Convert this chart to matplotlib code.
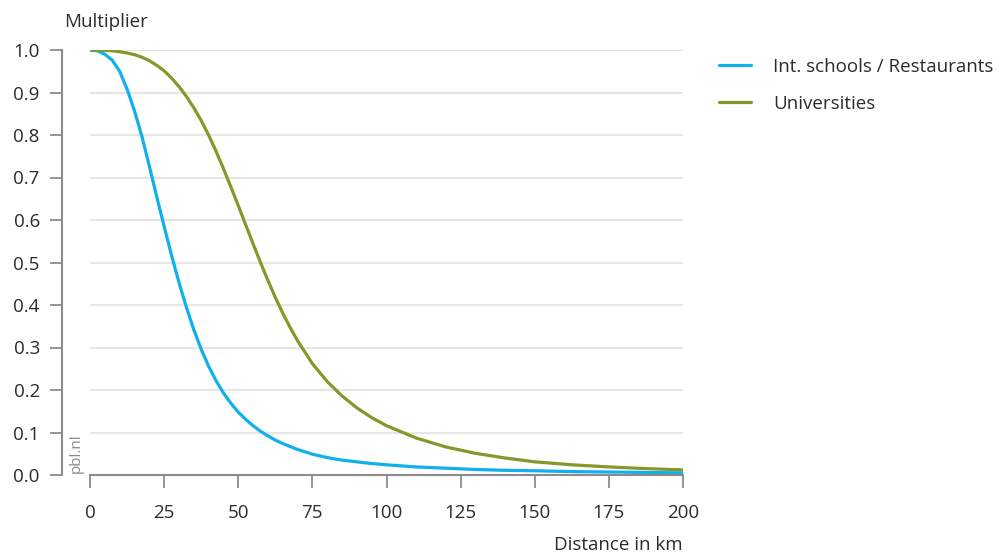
import matplotlib
matplotlib.use("Agg")
import matplotlib.pyplot as plt

distance_km = [0, 2.5, 5, 7.5, 10, 12.5, 15, 17.5, 20, 22.5, 25, 27.5, 30, 32.5, 35,
               37.5, 40, 42.5, 45, 47.5, 50, 52.5, 55, 57.5, 60, 62.5, 65, 67.5, 70,
               75, 80, 85, 90, 95, 100, 110, 120, 130, 140, 150, 162.5, 175, 187.5, 200]

schools_restaurants = [1.0, 0.998, 0.99, 0.976, 0.950, 0.908, 0.857, 0.797, 0.727, 0.655,
                       0.585, 0.517, 0.453, 0.395, 0.342, 0.296, 0.256, 0.222, 0.193, 0.169,
                       0.148, 0.131, 0.116, 0.103, 0.092, 0.082, 0.074, 0.067, 0.060,
                       0.049, 0.041, 0.035, 0.031, 0.027, 0.024, 0.019, 0.016, 0.013,
                       0.011, 0.010, 0.008, 0.007, 0.006, 0.005]

universities = [1.0, 1.0, 0.999, 0.998, 0.996, 0.993, 0.989, 0.983, 0.975, 0.964,
                0.951, 0.934, 0.914, 0.891, 0.864, 0.834, 0.800, 0.762, 0.721, 0.678,
                0.634, 0.589, 0.544, 0.500, 0.458, 0.418, 0.381, 0.347, 0.316,
                0.262, 0.220, 0.186, 0.158, 0.135, 0.116, 0.087, 0.066, 0.051,
                0.040, 0.031, 0.024, 0.019, 0.015, 0.012]

series_labels = ["Int. schools / Restaurants", "Universities"]
x_ticks = [0, 25, 50, 75, 100, 125, 150, 175, 200]
y_ticks = [0.0, 0.1, 0.2, 0.3, 0.4, 0.5, 0.6, 0.7, 0.8, 0.9, 1.0]

plt.rcParams['font.family'] = ['Open Sans', 'DejaVu Sans']
text_color = "#2b2b2b"
axis_color = "#8c8c8c"
blue = "#0fb0ec"
green = "#84992a"
fs = 13.5

fig = plt.figure(figsize=(10.08, 5.54), dpi=100)
W, H = 1008, 554
ax = fig.add_axes([90 / W, 1 - 475 / H, (683 - 90) / W, (475 - 50) / H])

ax.plot(distance_km, schools_restaurants, color=blue, lw=2.3, label=series_labels[0],
        solid_capstyle='round', solid_joinstyle='round', zorder=3)
ax.plot(distance_km, universities, color=green, lw=2.3, label=series_labels[1],
        solid_capstyle='round', solid_joinstyle='round', zorder=3)

ax.set_xlim(0, 200)
ax.set_ylim(0, 1.0)
ax.set_xticks(x_ticks)
ax.set_yticks(y_ticks)
ax.set_yticklabels([f"{v:.1f}" for v in y_ticks])

for v in y_ticks[1:]:
    ax.axhline(v, color="#e6e6e6", lw=1.5, zorder=1)

for s in ['top', 'right']:
    ax.spines[s].set_visible(False)
ax.spines['left'].set_position(('outward', 28 * 72 / 100))
ax.spines['left'].set_color(axis_color)
ax.spines['left'].set_linewidth(1.5)
ax.spines['bottom'].set_color(axis_color)
ax.spines['bottom'].set_linewidth(1.5)
ax.spines['bottom'].set_zorder(4)

ax.tick_params(axis='y', length=9, width=1.3, color=axis_color, pad=7,
               labelsize=fs, labelcolor=text_color)
ax.tick_params(axis='x', length=9, width=1.3, color=axis_color, pad=12,
               labelsize=fs, labelcolor=text_color)

fig.text(64 / W, 1 - 22 / H, "Multiplier", fontsize=fs, color=text_color,
         ha='left', va='center')
fig.text(683 / W, 1 - 545 / H, "Distance in km", fontsize=fs, color=text_color,
         ha='right', va='center')
ax.text(-0.011, 0.004, "pbl.nl", transform=ax.transAxes, rotation=90,
        fontsize=11, color="#8a8a8a", ha='right', va='bottom')

leg = ax.legend(loc='upper left', bbox_to_anchor=(719 / W, 1 - 58 / H),
                bbox_transform=fig.transFigure, frameon=False, fontsize=fs,
                handlelength=1.7, handletextpad=1.2, labelspacing=1.0,
                borderaxespad=0, borderpad=0)
for t in leg.get_texts():
    t.set_color(text_color)

fig.savefig("out.png", dpi=100)
